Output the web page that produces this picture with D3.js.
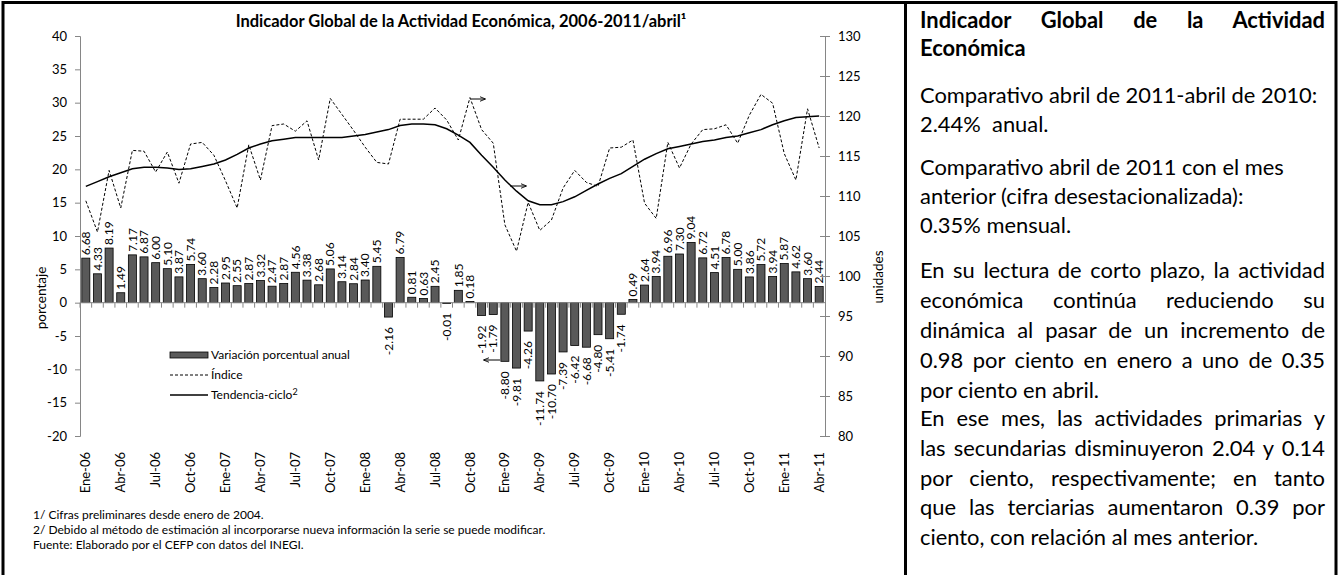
<!DOCTYPE html>
<html>
<head>
<meta charset="utf-8">
<script src="https://cdn.jsdelivr.net/npm/d3@7"></script>
<style>
body { margin: 0; background: #fff; }
#wrap { position: relative; width: 1340px; height: 575px; overflow: hidden; font-family: Lato, "Open Sans", sans-serif; }
#wrap svg { position: absolute; left: 0; top: 0; }
.ln { position: absolute; left: 920px; width: 405px; font-size: 21.9px; line-height: 26px; white-space: nowrap; color: #000; }
.ln.j { text-align: justify; text-align-last: justify; }
.ln.b { font-weight: bold; }
</style>
</head>
<body>
<div id="wrap"></div>
<script>
// Indicador Global de la Actividad Economica, ene-2006 a abr-2011

var meses = ["Ene", "Feb", "Mar", "Abr", "May", "Jun", "Jul", "Ago", "Sep", "Oct", "Nov", "Dic"];
var anios = ["06", "07", "08", "09", "10", "11"];

// variacion porcentual anual (barras, eje izquierdo)
var variacion = [6.68, 4.33, 8.19, 1.49, 7.17, 6.87, 6.00, 5.10, 3.87, 5.74, 3.60, 2.28,
                 2.95, 2.55, 2.87, 3.32, 2.47, 2.87, 4.56, 3.38, 2.68, 5.06, 3.14, 2.84,
                 3.40, 5.45, -2.16, 6.79, 0.81, 0.63, 2.45, -0.01, 1.85, 0.18, -1.92, -1.79,
                 -8.80, -9.81, -4.26, -11.74, -10.70, -7.39, -6.42, -6.68, -4.80, -5.41, -1.74, 0.49,
                 2.64, 3.94, 6.96, 7.30, 9.04, 6.72, 4.51, 6.78, 5.00, 3.86, 5.72, 3.94,
                 5.87, 4.62, 3.60, 2.44];

// indice (linea punteada, eje derecho)
var indice = [109.4, 105.5, 113.2, 108.5, 115.7, 115.6, 113.0, 115.5, 111.6, 116.5, 116.7, 115.1,
              111.9, 108.5, 116.4, 112.0, 118.8, 119.0, 118.1, 119.4, 114.5, 122.2, 120.2, 118.2,
              116.1, 114.2, 114.0, 119.6, 119.6, 119.6, 121.0, 119.5, 117.0, 122.3, 118.3, 116.6,
              106.4, 103.1, 109.2, 105.7, 107.0, 111.0, 113.2, 111.7, 111.2, 116.0, 116.1, 117.0,
              109.1, 107.2, 116.7, 113.5, 116.5, 118.3, 118.4, 118.9, 116.6, 120.1, 122.7, 121.6,
              115.3, 112.0, 120.9, 116.0];

// tendencia-ciclo (linea continua, eje derecho)
var tendencia = [111.2, 111.8, 112.4, 112.9, 113.4, 113.6, 113.6, 113.5, 113.3, 113.4, 113.7, 114.0,
                 114.5, 115.2, 116.0, 116.5, 116.9, 117.1, 117.3, 117.3, 117.3, 117.3, 117.3, 117.5,
                 117.7, 118.0, 118.3, 118.8, 119.0, 119.0, 118.9, 118.4, 117.6, 116.7, 115.1, 113.6,
                 112.0, 110.6, 109.4, 108.9, 108.9, 109.3, 109.9, 110.7, 111.5, 112.2, 112.8, 113.7,
                 114.6, 115.3, 115.9, 116.2, 116.5, 116.8, 117.0, 117.3, 117.5, 117.9, 118.3, 118.9,
                 119.4, 119.8, 119.9, 120.0];

var ticksIzq = [-20, -15, -10, -5, 0, 5, 10, 15, 20, 25, 30, 35, 40];
var ticksDer = [80, 85, 90, 95, 100, 105, 110, 115, 120, 125, 130];

var notas = ["1/ Cifras preliminares desde enero de 2004.",
             "2/ Debido al método de estimación al incorporarse nueva información la serie se puede modificar.",
             "Fuente: Elaborado por el CEFP con datos del INEGI."];

var panel = [
    {t: "Indicador Global de la Actividad", y: 20, c: "b j"},
    {t: "Económica", y: 48, c: "b"},
    {t: "Comparativo abril de 2011-abril de 2010:", y: 95, c: ""},
    {t: "2.44%\u00a0 anual.", y: 124, c: ""},
    {t: "Comparativo abril de 2011 con el mes", y: 167, c: ""},
    {t: "anterior (cifra desestacionalizada):", y: 196, c: ""},
    {t: "0.35% mensual.", y: 225, c: ""},
    {t: "En su lectura de corto plazo, la actividad", y: 270, c: "j"},
    {t: "económica continúa reduciendo su", y: 300, c: "j"},
    {t: "dinámica al pasar de un incremento de", y: 330, c: "j"},
    {t: "0.98 por ciento en enero a uno de 0.35", y: 360, c: "j"},
    {t: "por ciento en abril.", y: 390, c: ""},
    {t: "En ese mes, las actividades primarias y", y: 418, c: "j"},
    {t: "las secundarias disminuyeron 2.04 y 0.14", y: 448, c: "j"},
    {t: "por ciento, respectivamente; en tanto", y: 478, c: "j"},
    {t: "que las terciarias aumentaron 0.39 por", y: 507, c: "j"},
    {t: "ciento, con relación al mes anterior.", y: 537, c: ""}
];

var categorias = [];
variacion.forEach(function(d, i) {
    categorias.push(meses[i % 12] + "-" + anios[Math.floor(i / 12)]);
});

var width = 1340, height = 575;
var pLeft = 80, pRight = 825, pTop = 36, pBottom = 436;
var gris = "#868686";
var fmt = function(d) { return String(d); };

var wrap = d3.select("#wrap");
var svg = wrap.append("svg").attr("width", width).attr("height", height)
    .style("font-family", "Lato, 'Open Sans', sans-serif");

// marco
svg.append("rect").attr("x", 3).attr("y", 2.5).attr("width", 1333).attr("height", 580)
    .attr("fill", "none").attr("stroke", "#000").attr("stroke-width", 3);
svg.append("line").attr("x1", 905.5).attr("x2", 905.5).attr("y1", 2).attr("y2", height)
    .attr("stroke", "#000").attr("stroke-width", 3);

var x = d3.scaleBand().domain(categorias).range([pLeft, pRight]).paddingInner(0.31).paddingOuter(0.155);
var yL = d3.scaleLinear().domain([-20, 40]).range([pBottom, pTop]);
var yR = d3.scaleLinear().domain([80, 130]).range([pBottom, pTop]);
var bw = x.bandwidth();
var gap = (x.step() - bw) / 2;

// titulo
svg.append("text").attr("x", 461).attr("y", 27).attr("text-anchor", "middle")
    .style("font-size", "16.5px").style("font-weight", "bold")
    .text("Indicador Global de la Actividad Económica, 2006-2011/abril¹");

// eje izquierdo
var gL = svg.append("g").attr("transform", "translate(" + pLeft + ",0)")
    .call(d3.axisLeft(yL).tickValues(ticksIzq).tickFormat(fmt).tickSize(5).tickPadding(8));
gL.select(".domain").attr("stroke", gris);
gL.selectAll(".tick line").attr("stroke", gris);
gL.selectAll(".tick text").style("font-size", "13px").style("font-family", "Lato, sans-serif").attr("fill", "#000");

// eje derecho
var gR = svg.append("g").attr("transform", "translate(" + pRight + ",0)")
    .call(d3.axisRight(yR).tickValues(ticksDer).tickFormat(fmt).tickSize(5).tickPadding(8));
gR.select(".domain").attr("stroke", gris);
gR.selectAll(".tick line").attr("stroke", gris).attr("x1", -5);
gR.selectAll(".tick text").style("font-size", "13px").style("font-family", "Lato, sans-serif").attr("fill", "#000");

// etiquetas de ejes
svg.append("text").attr("transform", "translate(46,298) rotate(-90)").attr("text-anchor", "middle")
    .style("font-size", "13.5px").text("porcentaje");
svg.append("text").attr("transform", "translate(883,277) rotate(-90)").attr("text-anchor", "middle")
    .style("font-size", "13.5px").text("unidades");

// barras
svg.append("g").selectAll("rect").data(variacion).enter().append("rect")
    .attr("x", function(d, i) { return x(categorias[i]); })
    .attr("width", bw)
    .attr("y", function(d) { return yL(Math.max(d, 0)); })
    .attr("height", function(d) { return Math.max(Math.abs(yL(d) - yL(0)), 0.8); })
    .attr("fill", "#595959").attr("stroke", "#000").attr("stroke-width", 0.8);

// linea del cero con marcas
svg.append("line").attr("x1", pLeft).attr("x2", pRight).attr("y1", yL(0)).attr("y2", yL(0))
    .attr("stroke", gris).attr("stroke-width", 1);
svg.append("g").selectAll("line").data(categorias).enter().append("line")
    .attr("x1", function(d) { return x(d) - gap; })
    .attr("x2", function(d) { return x(d) - gap; })
    .attr("y1", yL(0)).attr("y2", yL(0) + 5)
    .attr("stroke", gris);

// etiquetas de valores
svg.append("g").selectAll("text").data(variacion).enter().append("text")
    .attr("transform", function(d, i) {
        var cx = x(categorias[i]) + bw / 2;
        var yy = d >= 0 ? yL(d) - 3 : yL(d) + 10;
        return "translate(" + cx + "," + yy + ") rotate(-90)";
    })
    .attr("dy", "0.35em")
    .attr("text-anchor", function(d) { return d >= 0 ? "start" : "end"; })
    .style("font-size", "12px")
    .text(function(d) { return d.toFixed(2); });

// lineas indice y tendencia
var linea = d3.line()
    .x(function(d, i) { return x(categorias[i]) + bw / 2; })
    .y(function(d) { return yR(d); });

svg.append("path").datum(indice).attr("d", linea)
    .attr("fill", "none").attr("stroke", "#000").attr("stroke-width", 1).attr("stroke-dasharray", "3,2");
svg.append("path").datum(tendencia).attr("d", linea)
    .attr("fill", "none").attr("stroke", "#000").attr("stroke-width", 1.5);

// flechas
var defs = svg.append("defs");
defs.append("marker").attr("id", "flecha").attr("viewBox", "0 0 10 10").attr("refX", 9).attr("refY", 5)
    .attr("markerWidth", 6).attr("markerHeight", 6).attr("orient", "auto")
    .append("path").attr("d", "M0,1 L10,5 L0,9").attr("fill", "none").attr("stroke", "#000").attr("stroke-width", 1.5);
var flechas = [[471, 99, 485, 99], [510, 186, 526, 186], [500, 360, 484, 360]];
svg.append("g").selectAll("line").data(flechas).enter().append("line")
    .attr("x1", function(d) { return d[0]; }).attr("y1", function(d) { return d[1]; })
    .attr("x2", function(d) { return d[2]; }).attr("y2", function(d) { return d[3]; })
    .attr("stroke", "#000").attr("stroke-width", 1).attr("marker-end", "url(#flecha)");

// etiquetas del eje de categorias
var gX = svg.append("g").attr("transform", "translate(0,443)")
    .call(d3.axisBottom(x).tickValues(categorias.filter(function(d, i) { return i % 3 === 0; })).tickSize(0));
gX.select(".domain").remove();
gX.selectAll(".tick text")
    .attr("transform", "rotate(-90)").attr("x", -9).attr("y", 0).attr("dy", "0.35em")
    .attr("text-anchor", "end").attr("fill", "#000")
    .style("font-size", "13px").style("font-family", "Lato, sans-serif");

// leyenda
var leg = svg.append("g").attr("transform", "translate(170,0)").style("font-size", "12px");
leg.append("rect").attr("x", 0).attr("y", 352).attr("width", 38).attr("height", 6)
    .attr("fill", "#595959").attr("stroke", "#000").attr("stroke-width", 0.8);
leg.append("text").attr("x", 41).attr("y", 355).attr("dy", "0.35em").text("Variación porcentual anual");
leg.append("line").attr("x1", 0).attr("x2", 38).attr("y1", 375).attr("y2", 375)
    .attr("stroke", "#000").attr("stroke-dasharray", "3,2");
leg.append("text").attr("x", 41).attr("y", 375).attr("dy", "0.35em").text("Índice");
leg.append("line").attr("x1", 0).attr("x2", 38).attr("y1", 395).attr("y2", 395)
    .attr("stroke", "#000").attr("stroke-width", 1.5);
var tc = leg.append("text").attr("x", 41).attr("y", 395).attr("dy", "0.35em").text("Tendencia-ciclo");
tc.append("tspan").attr("dy", "-0.45em").style("font-size", "9px").text("2");

// notas
svg.append("g").selectAll("text").data(notas).enter().append("text")
    .attr("x", 33).attr("y", function(d, i) { return 519 + i * 15; })
    .style("font-size", "12px").text(function(d) { return d; });

// panel de texto
wrap.selectAll("div.ln").data(panel).enter().append("div")
    .attr("class", function(d) { return "ln " + d.c; })
    .style("top", function(d) { return (d.y - 13) + "px"; })
    .text(function(d) { return d.t; });
</script>
</body>
</html>
